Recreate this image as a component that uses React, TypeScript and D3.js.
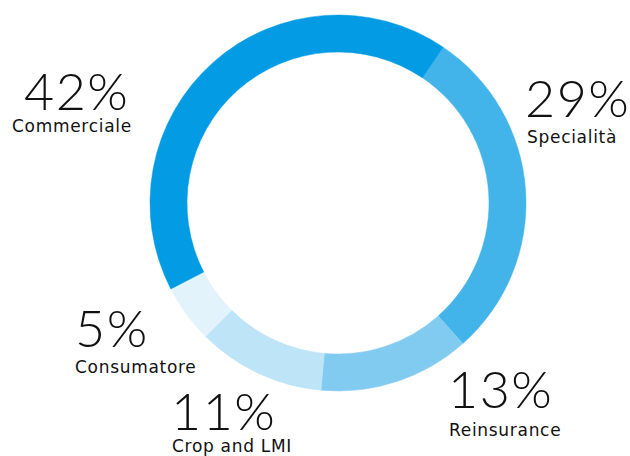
import React from "react";
import * as d3 from "d3";

const categories = ["Specialità", "Reinsurance", "Crop and LMI", "Consumatore", "Commerciale"];
const shares = [29, 13, 11, 5, 42];
const colors = ["#42B4E9", "#82CBF0", "#BDE4F7", "#E3F3FB", "#039BE3"];

// label layout (x = left edge of text, y = baseline of percent line)
const labelPos: Record<string, { x: number; y: number; sub: number; subX: number }> = {
  "Commerciale": { x: 24, y: 110, sub: 132, subX: 12 },
  "Specialità": { x: 525, y: 117, sub: 143, subX: 527 },
  "Reinsurance": { x: 448, y: 408, sub: 436, subX: 449 },
  "Crop and LMI": { x: 171, y: 430, sub: 452, subX: 172 },
  "Consumatore": { x: 75, y: 347, sub: 373, subX: 75 },
};

export default function App() {
  const W = 630, H = 456;
  const cx = 338, cy = 203, R = 188, r = 151;
  const start = (34 * Math.PI) / 180;
  const pie = d3.pie<number>().sort(null).value((d) => d)
    .startAngle(start).endAngle(start + 2 * Math.PI);
  const arcs = pie(shares);
  const arc = d3.arc<d3.PieArcDatum<number>>().innerRadius(r).outerRadius(R);
  const font = "Lato, 'Open Sans', sans-serif";
  return (
    <svg width={W} height={H} style={{ position: "absolute", left: 0, top: 0 }}>
      <rect width={W} height={H} fill="#fff" />
      <g transform={`translate(${cx},${cy})`}>
        {arcs.map((a, i) => (
          <path key={i} d={arc(a) as string} fill={colors[i]} stroke={colors[i]} strokeWidth={0.5} />
        ))}
      </g>
      {categories.map((c, i) => {
        const p = labelPos[c];
        return (
          <g key={c} fill="#111">
            <text x={p.x} y={p.y} fontSize={52} fontWeight={300} fontFamily={font} letterSpacing={1.5}>{shares[i]}%</text>
            <text x={p.subX} y={p.sub} fontSize={17} fontFamily="'DejaVu Sans', sans-serif" letterSpacing={0.7}>{c}</text>
          </g>
        );
      })}
    </svg>
  );
}
